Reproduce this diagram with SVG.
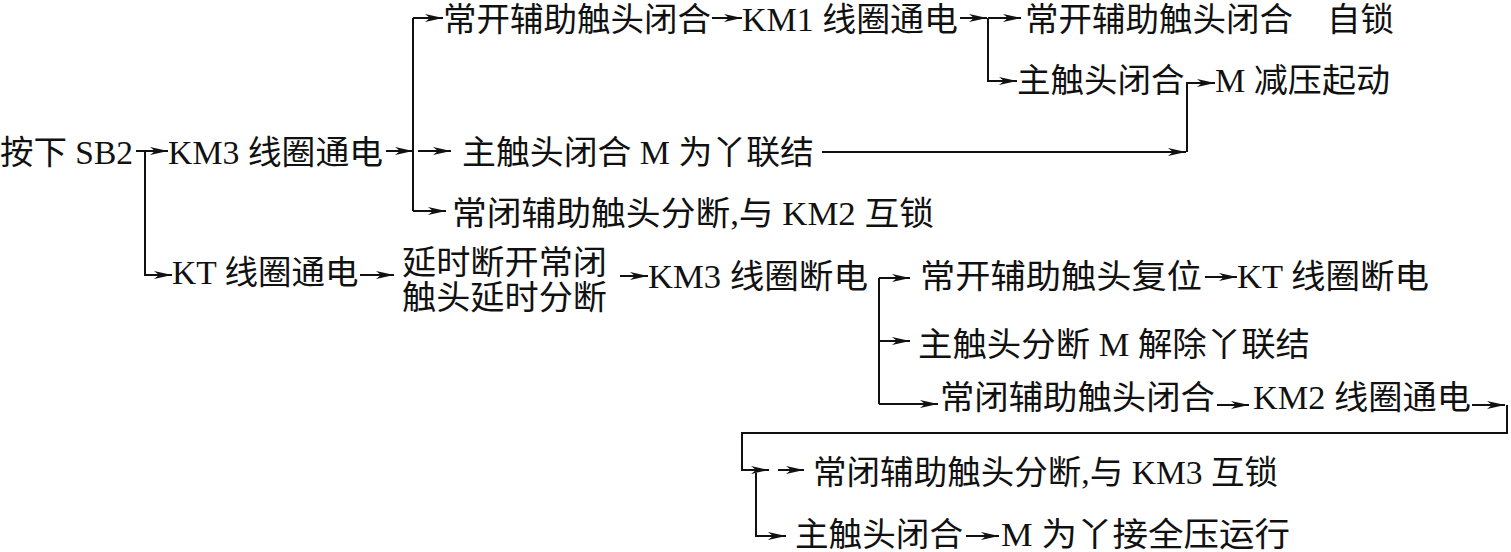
<svg xmlns="http://www.w3.org/2000/svg" width="1511" height="552" viewBox="0 0 1511 552">
<style>
text{font-family:"Liberation Serif","Noto Sans CJK SC",serif;font-size:33.5px;fill:#111;}
.c{fill:none;stroke:#111;stroke-width:2;}
</style>
<defs>
<marker id="ah" markerUnits="userSpaceOnUse" markerWidth="20" markerHeight="10" refX="18" refY="4.5" orient="auto">
<path d="M0,0.5 L18,4.5 L0,8.5 L5,4.5 z" fill="#111"/>
</marker>
</defs>
<rect width="1511" height="552" fill="#fff"/>
<g id="connectors">
<path class="c" d="M136,151 H168" marker-end="url(#ah)"/>
<path class="c" d="M145,151 V275 H172" marker-end="url(#ah)"/>
<path class="c" d="M386,151 H413" marker-end="url(#ah)"/>
<path class="c" d="M413,18 V211"/>
<path class="c" d="M413,18 H443" marker-end="url(#ah)"/>
<path class="c" d="M418,151 H451" marker-end="url(#ah)"/>
<path class="c" d="M413,211 H446" marker-end="url(#ah)"/>
<path class="c" d="M712,18 H742" marker-end="url(#ah)"/>
<path class="c" d="M960,18 H987" marker-end="url(#ah)"/>
<path class="c" d="M988,18 V81 H1017" marker-end="url(#ah)"/>
<path class="c" d="M988,18 H1021" marker-end="url(#ah)"/>
<path class="c" d="M822,152 H1186" marker-end="url(#ah)"/>
<path class="c" d="M1187,152 V83 H1215" marker-end="url(#ah)"/>
<path class="c" d="M360,275 H394" marker-end="url(#ah)"/>
<path class="c" d="M620,276 H648" marker-end="url(#ah)"/>
<path class="c" d="M879,278 V404"/>
<path class="c" d="M879,278 H910" marker-end="url(#ah)"/>
<path class="c" d="M879,341 H910" marker-end="url(#ah)"/>
<path class="c" d="M879,404 H938" marker-end="url(#ah)"/>
<path class="c" d="M1205,277 H1237" marker-end="url(#ah)"/>
<path class="c" d="M1217,405 H1249" marker-end="url(#ah)"/>
<path class="c" d="M1472,405 H1505" marker-end="url(#ah)"/>
<path class="c" d="M1507,405 V433 H742 V470 H769" marker-end="url(#ah)"/>
<path class="c" d="M778,470 H804" marker-end="url(#ah)"/>
<path class="c" d="M756,473 V536 H786" marker-end="url(#ah)"/>
<path class="c" d="M966,536 H999" marker-end="url(#ah)"/>
</g>
<g id="n_sb2"><text x="0" y="164">按下 SB2</text></g>
<g id="n_km3_on"><text x="168" y="164" textLength="215" lengthAdjust="spacingAndGlyphs">KM3 线圈通电</text></g>
<g id="n_no_close1"><text x="443" y="31" textLength="268" lengthAdjust="spacingAndGlyphs">常开辅助触头闭合</text></g>
<g id="n_km1_on"><text x="742" y="31" textLength="216" lengthAdjust="spacingAndGlyphs">KM1 线圈通电</text></g>
<g id="n_selflock"><text x="1025" y="31">常开辅助触头闭合 <tspan x="1327">自锁</tspan></text></g>
<g id="n_main_close1"><text x="1017" y="92">主触头闭合</text></g>
<g id="n_reduced"><text x="1215" y="92" textLength="175" lengthAdjust="spacingAndGlyphs">M 减压起动</text></g>
<g id="n_star"><text x="462" y="164" textLength="352" lengthAdjust="spacingAndGlyphs">主触头闭合 M 为丫联结</text></g>
<g id="n_lock_km2"><text x="452" y="225" textLength="482" lengthAdjust="spacingAndGlyphs">常闭辅助触头分断,与 KM2 互锁</text></g>
<g id="n_kt_on"><text x="172" y="284">KT 线圈通电</text></g>
<g id="n_delay"><text x="402" y="274" textLength="205" lengthAdjust="spacingAndGlyphs">延时断开常闭</text><text x="402" y="309" textLength="205" lengthAdjust="spacingAndGlyphs">触头延时分断</text></g>
<g id="n_km3_off"><text x="648" y="288" textLength="220" lengthAdjust="spacingAndGlyphs">KM3 线圈断电</text></g>
<g id="n_reset"><text x="920" y="288" textLength="282" lengthAdjust="spacingAndGlyphs">常开辅助触头复位</text></g>
<g id="n_kt_off"><text x="1237" y="288" textLength="192" lengthAdjust="spacingAndGlyphs">KT 线圈断电</text></g>
<g id="n_unstar"><text x="918" y="356" textLength="392" lengthAdjust="spacingAndGlyphs">主触头分断 M 解除丫联结</text></g>
<g id="n_nc_close"><text x="940" y="409" textLength="275" lengthAdjust="spacingAndGlyphs">常闭辅助触头闭合</text></g>
<g id="n_km2_on"><text x="1253" y="409" textLength="218" lengthAdjust="spacingAndGlyphs">KM2 线圈通电</text></g>
<g id="n_lock_km3"><text x="813" y="484" textLength="465" lengthAdjust="spacingAndGlyphs">常闭辅助触头分断,与 KM3 互锁</text></g>
<g id="n_main_close2"><text x="795" y="546" textLength="168" lengthAdjust="spacingAndGlyphs">主触头闭合</text></g>
<g id="n_full"><text x="1001" y="546" textLength="289" lengthAdjust="spacingAndGlyphs">M 为丫接全压运行</text></g>
</svg>
